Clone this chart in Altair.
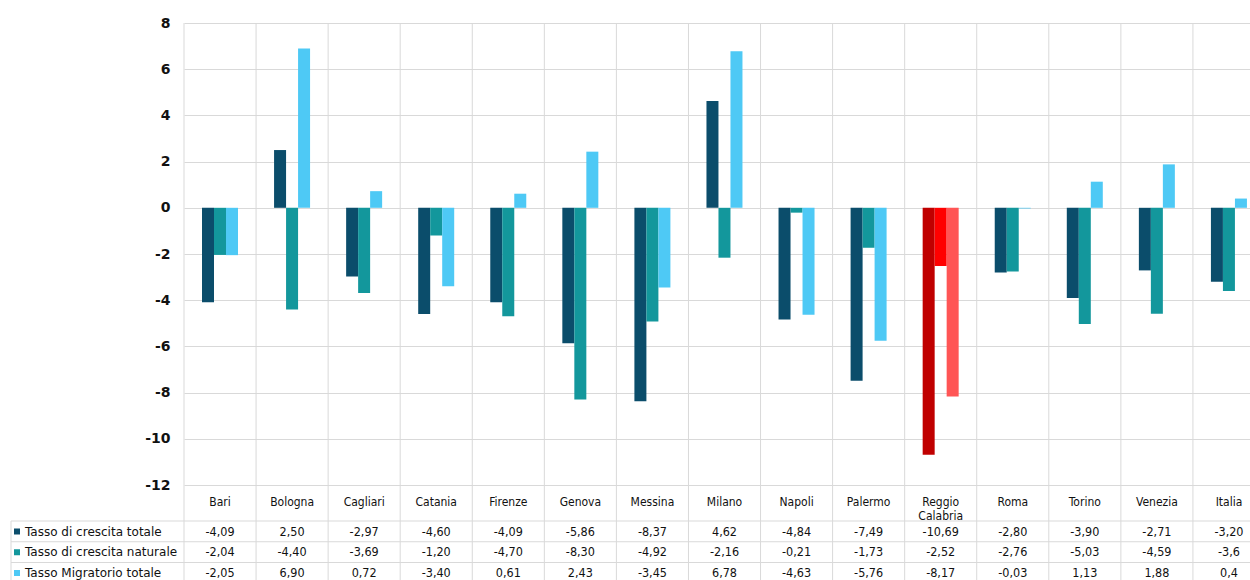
import altair as alt
import pandas as pd

# --- data -----------------------------------------------------------------
cities = ["Bari", "Bologna", "Cagliari", "Catania", "Firenze", "Genova",
          "Messina", "Milano", "Napoli", "Palermo", "Reggio Calabria",
          "Roma", "Torino", "Venezia", "Italia"]
series = ["Tasso di crescita totale", "Tasso di crescita naturale",
          "Tasso Migratorio totale"]
crescita_totale = ["-4,09", "2,50", "-2,97", "-4,60", "-4,09", "-5,86", "-8,37",
                   "4,62", "-4,84", "-7,49", "-10,69", "-2,80", "-3,90", "-2,71",
                   "-3,20"]
crescita_naturale = ["-2,04", "-4,40", "-3,69", "-1,20", "-4,70", "-8,30", "-4,92",
                     "-2,16", "-0,21", "-1,73", "-2,52", "-2,76", "-5,03", "-4,59",
                     "-3,6"]
migratorio_totale = ["-2,05", "6,90", "0,72", "-3,40", "0,61", "2,43", "-3,45",
                     "6,78", "-4,63", "-5,76", "-8,17", "-0,03", "1,13", "1,88",
                     "0,4"]
y_ticks = [-12, -10, -8, -6, -4, -2, 0, 2, 4, 6, 8]
highlight = "Reggio Calabria"

# --- styling --------------------------------------------------------------
base_colors = ["#0b4d6b", "#13979c", "#4ec9f5"]
highlight_colors = ["#c00000", "#ff0000", "#ff5555"]
grid_color = "#d9d9d9"
text_color = "#111111"
FONT = "DejaVu Sans Condensed, Liberation Sans, sans-serif"

PLOT_W, PLOT_H = 1066, 557          # view; bars use the top 462 px
BAR_H = 462
BAND_RANGE = [0, 1081]              # last column runs past the right edge
GROUP_RANGE = [18, 54]              # three 12 px bars centred in a 72 px column
ROW_RANGE = [508.5, 550]

# --- tidy table -----------------------------------------------------------
rows = []
for values, s in zip([crescita_totale, crescita_naturale, migratorio_totale], series):
    for c, txt in zip(cities, values):
        key = ("R: " + s) if c == highlight else s
        rows.append({"city": c, "series": s, "label": txt,
                     "value": float(txt.replace(",", ".")), "key": key})
df = pd.DataFrame(rows)
df_cities = pd.DataFrame({"city": cities,
                          "header": [c.replace(" ", "\n") for c in cities]})
df_series = pd.DataFrame({"series": series, "key": series})

color_scale = alt.Scale(domain=series + ["R: " + s for s in series],
                        range=base_colors + highlight_colors)
x_scale = alt.Scale(domain=cities, range=BAND_RANGE, paddingInner=0, paddingOuter=0)
row_scale = alt.Scale(type="point", domain=series, range=ROW_RANGE, padding=0)

# column separators, running from the top of the plot through the table
col_lines = alt.Chart(df_cities).mark_rule(color=grid_color).encode(
    x=alt.X("city:N", sort=cities, scale=x_scale, bandPosition=0, axis=None),
    y=alt.value(0), y2=alt.value(PLOT_H),
)

bars = alt.Chart(df).mark_bar().encode(
    x=alt.X("city:N", sort=cities, axis=None),
    xOffset=alt.XOffset("series:N", sort=series,
                        scale=alt.Scale(domain=series, range=GROUP_RANGE,
                                        paddingInner=0, paddingOuter=0)),
    y=alt.Y("value:Q",
            scale=alt.Scale(domain=[-12, 8], nice=False, zero=True, range=[BAR_H, 0]),
            axis=alt.Axis(values=y_ticks, title=None, domain=False, ticks=False,
                          grid=True, gridColor=grid_color, labelPadding=14,
                          labelExpr="toString(datum.value)",
                          labelFont="DejaVu Sans", labelFontWeight="bold",
                          labelFontSize=14, labelColor=text_color)),
    color=alt.Color("key:N", scale=color_scale, legend=None),
)

# city names in the header row of the data table
header = alt.Chart(df_cities).mark_text(
    baseline="middle", fontSize=12, font=FONT, lineBreak="\n", lineHeight=13.5,
    color=text_color,
).encode(
    x=alt.X("city:N", sort=cities),
    y=alt.value(479),
    text="header:N",
)

# values in the data table
cells = alt.Chart(df).mark_text(
    baseline="middle", fontSize=12.5, font=FONT, color=text_color,
).encode(
    x=alt.X("city:N", sort=cities),
    y=alt.Y("series:N", scale=row_scale, axis=None),
    text="label:N",
)

# row separators of the table
row_lines = alt.Chart(df_series).mark_rule(
    color=grid_color, yOffset=-10.5,
).encode(
    x=alt.value(-173), x2=alt.value(PLOT_W),
    y=alt.Y("series:N", scale=row_scale, axis=None),
)

left_border = alt.Chart(pd.DataFrame({"edge": [0]})).mark_rule(
    color=grid_color,
).encode(x=alt.value(-173), y=alt.value(498), y2=alt.value(PLOT_H))

# row headers: colour key + series name
keys = alt.Chart(df_series).mark_square(size=36, opacity=1).encode(
    x=alt.value(-167),
    y=alt.Y("series:N", scale=row_scale, axis=None),
    color=alt.Color("key:N", scale=color_scale, legend=None),
)
names = alt.Chart(df_series).mark_text(
    align="left", baseline="middle", fontSize=12, font="DejaVu Sans",
    color=text_color,
).encode(
    x=alt.value(-159),
    y=alt.Y("series:N", scale=row_scale, axis=None),
    text="series:N",
)

chart = alt.layer(
    col_lines, bars, row_lines, left_border, header, cells, keys, names
).resolve_scale(
    y="independent"
).properties(
    width=PLOT_W, height=PLOT_H,
    autosize=alt.AutoSizeParams(type="none"),
    padding={"left": 184, "top": 23, "right": 0, "bottom": 0},
    background="white",
).configure_view(stroke=None)

chart.save("out.html", embed_options={"renderer": "svg", "actions": False})
